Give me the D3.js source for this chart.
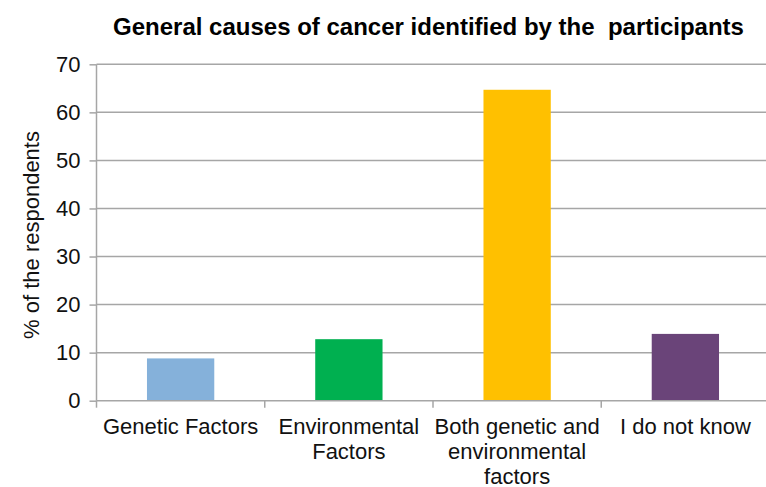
<!DOCTYPE html>
<html><head><meta charset="utf-8">
<script src="https://cdn.jsdelivr.net/npm/d3@7"></script>
<style>body{margin:0;background:#fff}svg{display:block}</style>
</head><body>
<svg id="c" width="766" height="487"></svg>
<script>
const categories = [["Genetic Factors"],["Environmental","Factors"],["Both genetic and","environmental","factors"],["I do not know"]];
const values = [8.8, 12.8, 64.7, 13.9];
const colors = ["#85b1da","#00b050","#ffc000","#6a4479"];
const yTicks = [0,10,20,30,40,50,60,70];
const title = "General causes of cancer identified by the\u00a0 participants";
const yTitle = "% of the respondents";

const svg = d3.select("#c");
const font = "Liberation Sans, Arial, sans-serif";
const x = d3.scaleBand().domain(d3.range(categories.length)).range([96.5, 769.5]).paddingInner(0.6).paddingOuter(0.3);
const y = d3.scaleLinear().domain([0,70]).range([400.7, 64.3]);

// gridlines
svg.append("g").selectAll("line").data(yTicks.slice(1)).join("line")
  .attr("x1",96.5).attr("x2",770).attr("y1",d=>y(d)).attr("y2",d=>y(d))
  .attr("stroke","#a6a6a6").attr("stroke-width",1.5);

// bars
svg.append("g").selectAll("rect").data(values).join("rect")
  .attr("x",(d,i)=>x(i)).attr("width",x.bandwidth())
  .attr("y",d=>y(d)).attr("height",d=>y(0)-y(d))
  .attr("fill",(d,i)=>colors[i]);

// y axis
const ya = svg.append("g").attr("transform","translate(96.5,0)")
  .call(d3.axisLeft(y).tickValues(yTicks).tickSize(7).tickPadding(9));
ya.select(".domain").attr("stroke","#a6a6a6").attr("stroke-width",1.5).attr("d","M0,64.3V400.7");
ya.selectAll(".tick line").attr("stroke","#a6a6a6").attr("stroke-width",1.5);
ya.selectAll(".tick text").attr("font-family",font).attr("font-size",22).attr("fill","#111");

// x axis
const xb = d3.scaleLinear().domain([0,4]).range([96.5,769.5]);
const xa = svg.append("g").attr("transform","translate(0,400.7)");
xa.append("line").attr("x1",96.5).attr("x2",770).attr("stroke","#a6a6a6").attr("stroke-width",1.5);
xa.selectAll("line.t").data(d3.range(0,5)).join("line").attr("class","t")
  .attr("x1",d=>xb(d)).attr("x2",d=>xb(d)).attr("y1",0).attr("y2",7)
  .attr("stroke","#a6a6a6").attr("stroke-width",1.5);
const lbl = xa.selectAll("text").data(categories).join("text")
  .attr("text-anchor","middle").attr("font-family",font).attr("font-size",22).attr("fill","#111");
lbl.each(function(lines,i){
  const t = d3.select(this);
  lines.forEach((s,k)=>t.append("tspan").attr("x",x(i)+x.bandwidth()/2).attr("y",33+k*25).text(s));
});

// title
svg.append("text").attr("x",428.5).attr("y",35).attr("text-anchor","middle")
  .attr("font-family",font).attr("font-weight","bold").attr("font-size",24).attr("fill","#000")
  .text(title);

// y title
svg.append("text").attr("transform","translate(39,235) rotate(-90)").attr("text-anchor","middle")
  .attr("font-family",font).attr("font-size",22).attr("fill","#111").text(yTitle);
</script>
</body></html>
